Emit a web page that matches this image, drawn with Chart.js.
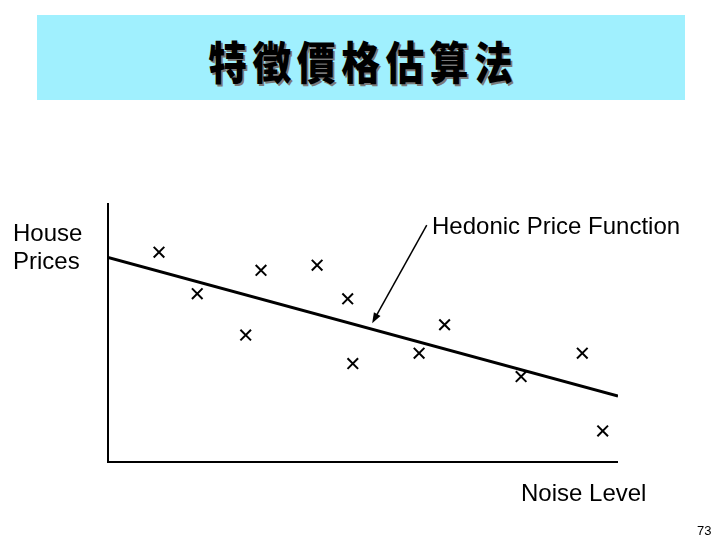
<!DOCTYPE html>
<html>
<head>
<meta charset="utf-8">
<script src="https://cdn.jsdelivr.net/npm/chart.js@4"></script>
<style>
    body { margin: 0; background: #fff; }
    .slide { position: relative; width: 720px; height: 540px; overflow: hidden; font-family: "Liberation Sans", Arial, sans-serif; color: #000; }
    .banner { position: absolute; left: 37px; top: 15px; width: 648px; height: 85px; background: #a0f0fe; display: flex; align-items: center; justify-content: center; }
    .banner span { font-family: "Noto Sans CJK TC", sans-serif; font-weight: 900; font-size: 45px; line-height: 45px; letter-spacing: 6.5px; padding-left: 6.5px; transform: scaleX(0.86); text-shadow: 2px 2px 0 #7a7a7a; margin-top: 5px; }
    .label { position: absolute; font-size: 24px; line-height: 24px; white-space: nowrap; }
    #chart { position: absolute; left: 0; top: 0; }
</style>
</head>
<body>
<div class="slide">
    <div class="banner"><span>特徵價格估算法</span></div>
    <canvas id="chart" width="720" height="540"></canvas>
    <div class="label" style="left: 13px; top: 219px; line-height: 28px;">House<br>Prices</div>
    <div class="label" style="left: 432px; top: 214px;">Hedonic Price Function</div>
    <div class="label" style="left: 521px; top: 481px;">Noise Level</div>
    <div class="label" style="left: 697px; top: 524px; font-size: 13px; line-height: 13px;">73</div>
</div>

<script>
// наблюдения: уровень шума и цена дома
const noise = [10, 17.5, 30, 27, 41, 47, 48, 66, 61, 81, 93, 97]
const prices = [81, 65, 74, 49, 76, 63, 38, 53, 42, 33, 42, 12]

// линия гедонистической функции цены
const fitNoise = [0, 100]
const fitPrices = [79, 25.5]

// стрелка от подписи к линии
const arrowFrom = [62.5, 91.5]
const arrowTo = [51.8, 53.6]

// оси рисуем сами по краям области графика
const axesPlugin = {
    id: 'axes',
    afterDatasetsDraw(chart) {
        const { ctx, chartArea, scales } = chart
        ctx.save()
        ctx.strokeStyle = '#000'
        ctx.lineWidth = 2
        ctx.beginPath()
        ctx.moveTo(chartArea.left, chartArea.top)
        ctx.lineTo(chartArea.left, chartArea.bottom)
        ctx.lineTo(chartArea.right, chartArea.bottom)
        ctx.stroke()

        const x1 = scales.x.getPixelForValue(arrowFrom[0])
        const y1 = scales.y.getPixelForValue(arrowFrom[1])
        const x2 = scales.x.getPixelForValue(arrowTo[0])
        const y2 = scales.y.getPixelForValue(arrowTo[1])
        const angle = Math.atan2(y2 - y1, x2 - x1)
        const head = 11
        ctx.lineWidth = 1.5
        ctx.beginPath()
        ctx.moveTo(x1, y1)
        ctx.lineTo(x2 - Math.cos(angle) * head * 0.7, y2 - Math.sin(angle) * head * 0.7)
        ctx.stroke()
        ctx.fillStyle = '#000'
        ctx.beginPath()
        ctx.moveTo(x2, y2)
        ctx.lineTo(x2 - head * Math.cos(angle - 0.35), y2 - head * Math.sin(angle - 0.35))
        ctx.lineTo(x2 - head * Math.cos(angle + 0.35), y2 - head * Math.sin(angle + 0.35))
        ctx.closePath()
        ctx.fill()
        ctx.restore()
    }
}

const ctx = document.getElementById('chart').getContext('2d')

new Chart(ctx, {
    type: 'scatter',
    data: {
        datasets: [
            {
                label: 'Hedonic Price Function',
                data: fitNoise.map((x, i) => ({ x, y: fitPrices[i] })),
                showLine: true,
                borderColor: '#000',
                borderWidth: 3,
                pointRadius: 0,
                fill: false
            },
            {
                label: 'House Prices',
                data: noise.map((x, i) => ({ x, y: prices[i] })),
                pointStyle: 'crossRot',
                pointRadius: 7.5,
                pointBorderWidth: 2,
                borderColor: '#000',
                backgroundColor: '#000'
            }
        ]
    },
    options: {
        responsive: false,
        animation: false,
        layout: { padding: { left: 108, right: 102, top: 203, bottom: 78 } },
        scales: {
            x: { type: 'linear', min: 0, max: 100, display: false },
            y: { type: 'linear', min: 0, max: 100, display: false }
        },
        plugins: {
            legend: { display: false },
            tooltip: { enabled: false }
        }
    },
    plugins: [axesPlugin]
})
</script>
</body>
</html>
